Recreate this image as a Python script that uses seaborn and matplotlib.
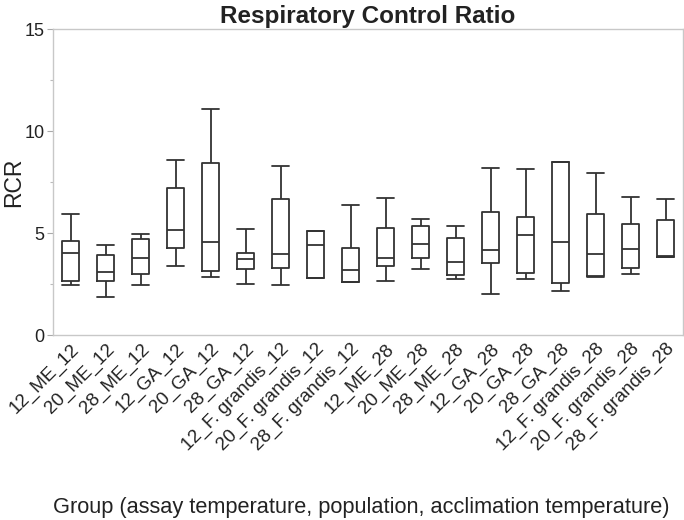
import matplotlib
matplotlib.use("Agg")
import matplotlib.pyplot as plt
from matplotlib.ticker import MultipleLocator
import pandas as pd
import seaborn as sns

# Box summaries (whisker low, Q1, median, Q3, whisker high)
groups = ["12_ME_12", "20_ME_12", "28_ME_12", "12_GA_12", "20_GA_12", "28_GA_12",
          "12_F. grandis_12", "20_F. grandis_12", "28_F. grandis_12",
          "12_ME_28", "20_ME_28", "28_ME_28", "12_GA_28", "20_GA_28", "28_GA_28",
          "12_F. grandis_28", "20_F. grandis_28", "28_F. grandis_28"]
whisker_low = [2.45, 1.88, 2.45, 3.37, 2.83, 2.51, 2.45, 2.78, 2.60,
               2.65, 3.25, 2.76, 2.02, 2.75, 2.14, 2.86, 2.98, 3.82]
q1 = [2.65, 2.66, 2.99, 4.28, 3.14, 3.25, 3.30, 2.78, 2.60,
      3.40, 3.77, 2.93, 3.51, 3.05, 2.55, 2.88, 3.28, 3.84]
median = [4.03, 3.10, 3.79, 5.13, 4.57, 3.74, 3.97, 4.43, 3.19,
          3.79, 4.46, 3.58, 4.17, 4.89, 4.57, 3.97, 4.23, 3.86]
q3 = [4.62, 3.92, 4.69, 7.19, 8.42, 4.00, 6.67, 5.11, 4.26,
      5.25, 5.36, 4.77, 6.03, 5.80, 8.50, 5.95, 5.44, 5.64]
whisker_high = [5.92, 4.41, 4.95, 8.58, 11.09, 5.18, 8.28, 5.11, 6.36,
                6.70, 5.70, 5.36, 8.19, 8.12, 8.50, 7.94, 6.76, 6.67]

# five points per group give exactly these quartiles and extremes
rows = []
for i, g in enumerate(groups):
    for v in (whisker_low[i], q1[i], median[i], q3[i], whisker_high[i]):
        rows.append({"group": g, "RCR": v})
df = pd.DataFrame(rows)

sns.set_style("white")
plt.rcParams["font.family"] = ["Liberation Sans", "DejaVu Sans"]

fig = plt.figure(figsize=(6.84, 5.2), dpi=100)
ax = fig.add_axes([53 / 684, 1 - 335 / 520, 630 / 684, 306 / 520])

line_col = "#333333"
sns.boxplot(data=df, x="group", y="RCR", order=groups, whis=(0, 100),
            fill=False, color=line_col, linewidth=1.3, width=0.46,
            capwidths=0.46, ax=ax)

ax.set_ylim(0, 15)
ax.set_xlim(-0.5, len(groups) - 0.5)
ax.yaxis.set_major_locator(MultipleLocator(5))
ax.yaxis.set_minor_locator(MultipleLocator(2.5))
ax.tick_params(axis="y", which="major", left=True, length=4, width=0.8,
               color="#aaaaaa", labelsize=13, labelcolor="#222222", pad=2)
ax.tick_params(axis="y", which="minor", left=True, length=2, width=0.8, color="#bbbbbb")
ax.tick_params(axis="x", length=0, labelsize=13.5, labelcolor="#222222", pad=4)
plt.setp(ax.get_xticklabels(), rotation=45, ha="right", rotation_mode="anchor")

for s in ax.spines.values():
    s.set_color("#c8c8c8")
    s.set_linewidth(1.0)

ax.set_title("Respiratory Control Ratio", fontsize=17.5, fontweight="bold",
             color="#222222", pad=4)
ax.set_ylabel("RCR", fontsize=16.5, color="#222222")
ax.yaxis.set_label_coords(-0.044, 0.5)
ax.set_xlabel("Group (assay temperature, population, acclimation temperature)",
              fontsize=15.7, color="#222222")
ax.xaxis.set_label_coords(0.49, -0.53)

fig.savefig("out.png", dpi=100)
